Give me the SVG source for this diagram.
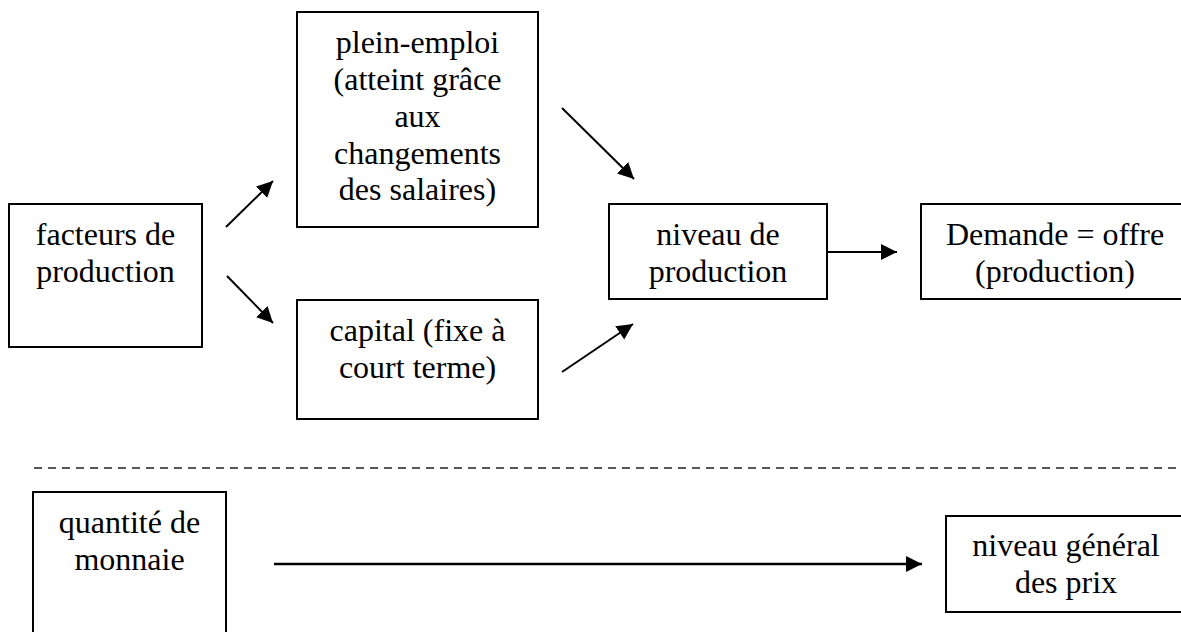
<svg xmlns="http://www.w3.org/2000/svg" width="1181" height="632" viewBox="0 0 1181 632">
<style>
.box{fill:#fff;stroke:#000;stroke-width:2}
.t{font-family:"Liberation Serif","Times New Roman",serif;font-size:32px;fill:#000;text-anchor:middle}
.c{stroke:#000;stroke-width:2;fill:none;marker-end:url(#ah)}
.thick{stroke-width:2.6}
.dash{stroke:#222;stroke-width:1.6;stroke-dasharray:8 6;fill:none}
</style>
<defs>
<marker id="ah" markerUnits="userSpaceOnUse" markerWidth="18" markerHeight="18" refX="16" refY="8" orient="auto" viewBox="0 0 18 18">
<path d="M0,0 L16,8 L0,16 z" fill="#000"/>
</marker>
</defs>
<rect width="1181" height="632" fill="#fff"/>
<g id="facteurs">
<rect class="box" x="9" y="204" width="193" height="143"/>
<text class="t" x="105.5" y="245">facteurs de</text>
<text class="t" x="105.5" y="282">production</text>
</g>
<g id="plein-emploi">
<rect class="box" x="297" y="12" width="241" height="215"/>
<text class="t" x="417.5" y="53">plein-emploi</text>
<text class="t" x="417.5" y="90">(atteint grâce</text>
<text class="t" x="417.5" y="127">aux</text>
<text class="t" x="417.5" y="164">changements</text>
<text class="t" x="417.5" y="200">des salaires)</text>
</g>
<g id="capital">
<rect class="box" x="297" y="300" width="241" height="119"/>
<text class="t" x="417.5" y="341">capital (fixe à</text>
<text class="t" x="417.5" y="378">court terme)</text>
</g>
<g id="niveau-production">
<rect class="box" x="609" y="204" width="218" height="95"/>
<text class="t" x="718" y="245">niveau de</text>
<text class="t" x="718" y="282">production</text>
</g>
<g id="demande-offre">
<rect class="box" x="921" y="204" width="268" height="95"/>
<text class="t" x="1055" y="245">Demande = offre</text>
<text class="t" x="1055" y="282">(production)</text>
</g>
<g id="quantite-monnaie">
<rect class="box" x="33" y="492" width="193" height="160"/>
<text class="t" x="129.5" y="533">quantité de</text>
<text class="t" x="129.5" y="570">monnaie</text>
</g>
<g id="niveau-general-prix">
<rect class="box" x="946" y="516" width="240" height="96"/>
<text class="t" x="1066" y="556">niveau général</text>
<text class="t" x="1066" y="593">des prix</text>
</g>
<g id="separator">
<line class="dash" x1="34" y1="468" x2="1181" y2="468"/>
</g>
<g id="connectors">
<line class="c" x1="226" y1="227" x2="273" y2="181"/>
<line class="c" x1="227" y1="276" x2="273" y2="323"/>
<line class="c" x1="562" y1="108" x2="634" y2="179"/>
<line class="c" x1="562" y1="372" x2="633" y2="324"/>
<line class="c" x1="827" y1="252" x2="897" y2="252"/>
<line class="c thick" x1="274" y1="564" x2="922" y2="564"/>
</g>
</svg>
